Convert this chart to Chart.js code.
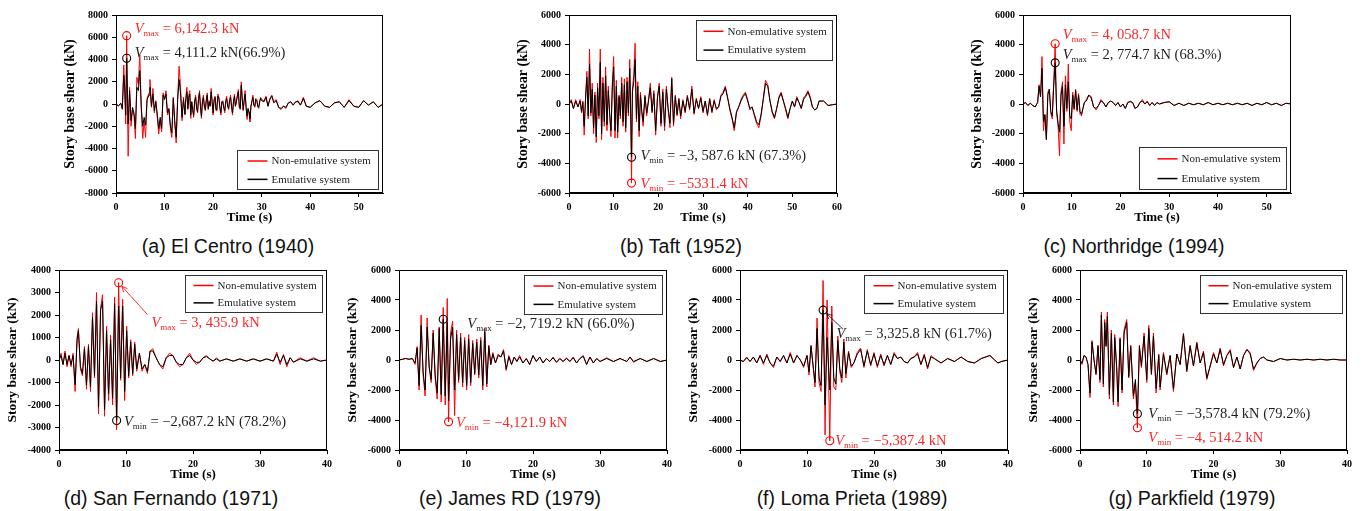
<!DOCTYPE html>
<html>
<head>
<meta charset="utf-8">
<script src="https://cdn.jsdelivr.net/npm/chart.js@4.4.1/dist/chart.umd.min.js"></script>
<style>
  body { margin: 0; background: #fff; }
  #fig { position: relative; width: 1368px; height: 511px; overflow: hidden; background: #fff; }
  #fig canvas { position: absolute; }
  .cap { position: absolute; width: 320px; text-align: center; line-height: 24px;
         font: 19.5px "Liberation Sans", Arial, sans-serif; color: #111; }
</style>
</head>
<body>
<div id="fig"></div>
<script>
// ---- data (time in s, story base shear in kN) ----
const legendLabels = ["Non-emulative system", "Emulative system"];

// (a) El Centro (1940)
const timeA = [
  0,0.5,1,1.3,1.6,1.8,2,2.2,2.5,2.8,
  3.1,3.4,3.7,4,4.3,4.6,4.9,5.2,5.5,5.8,
  6.1,6.4,6.8,7,7.3,7.6,7.9,8.2,8.5,8.8,
  9.1,9.4,9.7,10,10.3,10.6,10.9,11.2,11.5,11.8,
  12.1,12.4,12.7,13,13.3,13.6,13.9,
  14.2,14.4,14.6,14.8,15,15.2,15.4,15.6,15.8,16,
  16.2,16.4,16.6,16.8,17,17.2,17.4,17.6,17.8,18,
  18.2,18.4,18.6,18.8,19,19.2,19.4,19.6,19.8,20,
  20.2,20.4,20.6,20.8,21,21.2,21.4,21.6,21.8,22,
  22.2,22.4,22.6,22.8,23,23.2,23.4,23.6,23.8,24,
  24.2,24.4,24.6,24.8,25,25.2,25.4,25.6,25.8,26,
  26.2,26.4,26.6,26.8,27,27.2,27.4,27.6,27.8,28,
  28.2,28.4,28.6,28.8,29,29.2,29.4,29.6,29.8,30,
  30.5,30.9,31.3,31.7,32.1,32.5,33,33.5,34,34.5,
  35,35.5,36,36.5,37,37.5,38,38.6,39.2,40,
  41,42,43,44,45,46,47,48,49,50,
  51,52,53,54,55
];
const nonEmuA = [
  0,-200,100,-500,3500,1000,-1800,6142,-4700,1500,
  -2000,-500,-1000,-3100,2400,1800,4400,-400,-3100,-1500,
  -3000,500,1000,2200,-300,1400,-800,300,-1200,-2700,
  -1500,-2500,1000,500,1200,-1000,-500,-2200,-3000,600,
  -1800,-3500,500,3400,1500,-1500,600,
  -1000,600,1500,-500,800,1200,-1300,200,-600,-1200,
  300,800,-400,-800,500,1200,-300,-1300,200,800,
  -200,-600,400,1000,-500,300,-200,1400,200,-1000,
  400,700,-600,-300,900,600,-400,-1000,200,300,
  -400,-800,300,700,-200,-500,400,800,-300,-1000,
  200,900,-200,300,800,1300,-300,-500,2000,600,
  -600,400,1200,-300,-1400,-500,-800,-1600,-200,300,
  800,-100,-300,500,400,-200,-400,300,600,400,
  300,700,-200,500,800,200,400,-300,-500,-200,
  -400,100,200,-100,200,300,-100,600,-200,-300,
  100,300,-200,-300,100,200,-300,400,-200,-300,
  300,-100,200,-300,0
];
const emuA = [
  0,-150,50,-400,2600,1500,-1000,4111,-1800,1200,
  -1500,-300,-800,-2200,1500,1200,3000,-200,-2000,-1200,
  -1900,400,800,1500,-200,900,-600,200,-900,-2200,
  -1200,-2200,800,400,900,-800,-400,-1900,-2600,500,
  -1500,-3000,400,2200,900,-1200,400,
  -900,500,1100,-400,600,900,-1000,200,-500,-1000,
  200,600,-300,-700,400,1000,-200,-1100,200,600,
  -200,-500,300,800,-400,200,-200,1100,200,-800,
  300,600,-500,-200,700,500,-300,-800,200,200,
  -300,-600,200,500,-200,-400,300,600,-200,-800,
  200,700,-200,200,700,1100,-200,-400,1700,500,
  -500,300,900,-300,-1100,-400,-700,-1300,-200,200,
  600,-100,-200,400,300,-200,-300,200,500,300,
  200,600,-200,400,700,100,300,-300,-400,-200,
  -300,100,200,-100,200,200,-100,500,-200,-300,
  100,300,-200,-300,100,200,-300,300,-200,-300,
  300,-100,200,-300,0
];

// (b) Taft (1952)
const timeB = [
  0,0.5,1,1.5,2,2.5,2.8,3.1,3.4,3.7,
  4,4.3,4.6,4.9,5.2,5.5,5.8,6.1,6.4,6.7,
  7,7.3,7.6,7.9,8.2,8.5,8.8,9.1,9.4,9.7,
  10,10.3,10.6,10.9,11.2,11.5,11.8,12.1,12.4,12.7,
  13,13.3,13.6,13.8,14,14.2,14.5,14.8,15.1,15.4,
  15.7,16,16.3,16.6,17,17.4,17.8,18.2,18.6,19,
  19.4,19.8,20.2,20.6,21,21.4,21.8,22.2,22.6,23,
  23.4,23.8,24.2,24.6,25,25.5,26,26.5,27,27.5,
  28,28.5,29,29.5,30,30.5,31,31.5,32,32.5,
  33,33.5,34,34.5,35,35.5,36,36.5,37,37.5,
  38,38.5,39,39.5,40,40.5,41,41.5,42,42.5,
  43,43.5,44,44.5,45,45.5,46,46.5,47,47.5,
  48,48.5,49,49.5,50,50.5,51,51.5,52,52.5,
  53,53.5,54,54.5,55,55.5,56,57,58,59,60
];
const nonEmuB = [
  0,300,-300,300,-200,300,-600,200,-2100,400,
  2200,-1000,3700,-800,1400,-2000,800,-2600,1400,-1000,
  3700,-2400,1800,-1500,2500,-1800,1200,-800,-2200,1400,
  3200,-2300,1600,-2300,600,-1000,1800,-1500,1700,-1900,
  1800,-800,3000,-500,-5331,1000,2000,4100,-1200,1500,
  -2200,800,-600,-1500,600,-800,300,1400,-600,900,
  -2100,500,1400,-1500,1000,-1800,1200,-400,-1600,1800,
  -1500,600,-800,400,-1000,300,-600,600,-400,1200,
  -700,400,-300,500,-600,200,-800,400,-600,300,
  -400,-200,600,800,1200,500,-400,-1000,-1800,-600,
  -200,300,600,800,300,-400,-200,-800,-1300,-1600,
  -800,400,1600,1300,200,-600,-1000,-300,500,800,
  200,-400,-1000,-300,200,-200,500,100,-300,400,
  600,900,500,-200,-400,-300,200,200,-100,-50,0
];
const emuB = [
  0,200,-300,200,-200,200,-500,100,-1500,300,
  1800,-800,2700,-600,1000,-1600,600,-2200,1100,-800,
  2800,-2000,1400,-1200,1900,-1400,900,-600,-1800,1100,
  2500,-1800,1200,-1900,500,-800,1400,-1200,1300,-1600,
  1500,-600,2400,-400,-3588,800,1500,3000,-1000,1200,
  -1800,600,-500,-1200,500,-600,200,1100,-500,700,
  -1800,400,1200,-1300,800,-1500,1000,-300,-1300,1700,
  -1300,500,-700,300,-800,200,-500,500,-300,1000,
  -600,300,-300,400,-500,200,-700,300,-500,200,
  -300,-200,500,700,1100,400,-300,-900,-1600,-500,
  -200,200,500,700,200,-300,-200,-700,-1200,-1400,
  -700,300,1400,1200,200,-500,-900,-300,400,700,
  200,-300,-900,-300,200,-200,400,100,-300,300,
  500,800,400,-200,-400,-300,200,200,-100,-50,0
];

// (c) Northridge (1994)
const timeC = [
  0,0.5,1,1.5,2,2.5,3,3.3,3.6,3.9,
  4.2,4.5,4.8,5.1,5.4,5.7,6,6.3,6.6,6.9,
  7.2,7.5,7.8,8.1,8.4,8.7,9,9.3,9.6,9.9,
  10.2,10.5,10.8,11.1,11.4,11.7,12,12.3,12.6,13,
  13.5,14,14.5,15,15.5,16,16.5,17,17.5,18,
  18.5,19,19.5,20,20.5,21,21.5,22,22.5,23,
  23.5,24,24.5,25,25.5,26,26.5,27,27.5,28,
  29,30,31,32,33,34,35,36,37,38,
  39,40,41,42,43,44,45,46,47,48,
  49,50,51,52,53,54,55
];
const nonEmuC = [
  0,100,-100,50,-100,-200,100,1300,500,3200,
  -1800,-800,-2400,800,1000,-600,-1000,1500,4059,-600,
  -1500,-3500,800,1500,-2700,1900,-500,2700,-1200,-1800,
  800,-400,1000,-500,700,-700,-800,-300,100,300,
  600,500,-200,-400,-100,300,100,-200,100,200,
  100,-100,100,-200,0,-300,100,200,100,-300,
  -200,100,300,0,200,-100,100,-100,100,0,
  100,150,-100,50,-100,50,-50,50,-50,100,
  -50,50,-50,50,-50,50,-50,50,-100,50,
  -50,100,-50,50,-100,50,0
];
const emuC = [
  0,100,-100,50,-100,-200,100,1200,500,2400,
  -1200,-700,-2400,600,1000,-500,-800,1200,2775,-400,
  -1300,-1900,600,1200,-1500,1300,-300,1500,-800,-1000,
  600,-300,900,-400,600,-500,-700,-300,100,200,
  600,400,-200,-300,-100,200,100,-200,100,200,
  100,-100,100,-200,0,-300,100,150,100,-300,
  -200,100,200,0,150,-100,100,-100,100,0,
  100,150,-100,50,-100,50,-50,50,-50,100,
  -50,50,-50,50,-50,50,-50,50,-100,50,
  -50,100,-50,50,-100,50,0
];

// (d) San Fernando (1971)
const timeD = [
  0,0.3,0.6,0.9,1.2,1.5,1.8,2.1,2.4,2.7,
  2.9,3.2,3.5,3.8,4.1,4.4,4.7,5,5.3,5.6,
  5.9,6.2,6.5,6.8,7.1,7.4,7.7,8,8.3,8.6,
  8.9,9.2,9.5,9.8,10.1,10.4,10.7,11,11.3,11.6,
  12,12.4,12.8,13.2,13.6,14,14.5,15,15.5,16,
  16.5,17,17.5,18,18.5,19,19.5,20,20.5,21,
  21.5,22,22.5,23,23.5,24,25,26,27,28,
  29,30,31,32,32.5,33,33.5,34,34.5,35,
  36,37,38,39,40
];
const nonEmuD = [
  0,300,-200,400,-300,200,-300,300,-1400,1000,
  1400,-400,-700,600,-1300,700,-1400,2100,-800,3000,
  -2400,2300,2900,-2500,1500,-1800,1100,-2000,2800,-3100,
  3436,-900,2700,-1800,1500,-800,900,-700,800,-500,
  300,-500,-200,-600,400,500,100,-200,-400,100,
  300,200,-100,-300,-200,100,300,0,-200,-100,
  100,200,50,-50,100,-50,50,-50,50,-50,
  50,-50,50,-50,350,-200,250,-300,100,-100,
  100,-50,100,-50,0
];
const emuD = [
  0,200,-200,300,-200,200,-200,200,-1100,900,
  1300,-300,-600,500,-1100,600,-1200,1900,-700,2600,
  -2100,2200,2600,-2200,1300,-1500,900,-1700,2500,-2687,
  2400,-800,2400,-1400,1300,-700,800,-600,700,-400,
  300,-400,-200,-500,400,400,100,-200,-300,100,
  200,200,-100,-200,-200,100,200,0,-100,-100,
  100,150,50,-50,50,-50,50,-50,50,-50,
  50,-50,50,-50,250,-100,200,-200,100,-100,
  50,-50,50,-50,0
];

// (e) James RD (1979)
const timeE = [
  0,0.5,1,1.5,2,2.4,2.7,3,3.3,3.6,
  3.9,4.2,4.5,4.8,5.1,5.4,5.7,6,6.3,6.6,
  6.9,7.2,7.4,7.7,8,8.3,8.6,8.9,9.2,9.5,
  9.8,10.1,10.4,10.7,11,11.3,11.6,11.9,12.2,12.5,
  12.8,13.1,13.4,13.7,14,14.4,14.8,15.2,15.6,16,
  16.4,16.8,17.2,17.6,18,18.5,19,19.5,20,20.5,
  21,21.5,22,22.5,23,23.5,24,24.5,25,25.5,
  26,26.5,27,27.5,28,28.5,29,29.5,30,31,
  32,33,34,34.5,35,36,37,38,39,40
];
const nonEmuE = [
  0,50,100,50,100,-300,900,-2000,3000,-1000,
  -2400,2800,-500,-1500,2000,-1200,-2600,2200,-2800,3500,
  -3000,4100,-4122,1800,2600,-3700,2000,-1500,1800,-1800,
  1500,-2000,1700,-1700,1300,-1000,1400,-1200,1500,-2000,
  2100,-1800,1000,-300,500,-200,400,200,700,-700,
  300,-300,200,-100,300,-200,100,-300,300,-100,
  200,-200,100,-100,200,-150,100,-100,150,-100,
  200,-200,100,300,-300,200,-200,100,-100,150,
  -100,100,-100,200,-150,100,-100,100,-100,0
];
const emuE = [
  0,50,100,50,100,-200,800,-1700,2300,-800,
  -2000,2200,-400,-1300,1800,-1000,-2200,2100,-2300,2719,
  -2400,2500,-2700,1400,2200,-2000,1700,-1300,1500,-1500,
  1300,-1700,1400,-1500,1100,-900,1200,-1000,1300,-1700,
  1900,-1600,900,-300,400,-200,300,200,600,-600,
  200,-300,200,-100,200,-200,100,-300,300,-100,
  200,-200,100,-100,150,-150,100,-100,100,-100,
  150,-200,100,250,-300,200,-200,100,-100,100,
  -100,100,-100,200,-100,100,-100,100,-100,0
];

// (f) Loma Prieta (1989)
const timeF = [
  0,0.5,1,1.5,2,2.5,3,3.5,4,4.5,
  5,5.5,6,6.5,7,7.5,8,8.5,9,9.5,
  10,10.3,10.6,10.9,11.2,11.5,11.8,12.1,12.4,12.7,
  13,13.4,13.7,14,14.3,14.6,14.9,15.2,15.5,15.8,
  16.2,16.6,17,17.5,18,18.5,19,19.5,20,20.5,
  21,21.5,22,22.5,23,23.5,24,24.5,25,25.5,
  26,26.5,27,27.5,28,28.5,29,30,31,32,
  33,34,35,36,37.3,38,38.5,39,40
];
const nonEmuF = [
  0,-100,200,-100,200,-200,300,-300,400,-200,
  -500,200,-100,300,-200,500,-200,300,0,-500,
  300,-1000,1000,-400,-1800,2800,-1500,-2100,5300,-5000,
  4000,-5387,3600,-1800,-2000,1600,-800,-1500,1400,-1200,
  600,-500,-200,500,800,-500,700,-400,500,-500,
  400,-400,300,-300,500,100,200,-100,-200,100,
  200,500,-300,400,-600,300,100,-200,100,-100,
  200,-100,-200,100,300,0,-200,-100,0
];
const emuF = [
  0,-100,150,-100,200,-200,300,-200,300,-200,
  -400,200,-100,300,-200,400,-200,300,0,-400,
  300,-800,900,-300,-1500,2100,-1200,-1700,3326,-3000,
  1500,-2000,2500,-1200,-1600,1300,-600,-1200,1200,-900,
  500,-400,-200,400,700,-400,600,-300,400,-400,
  300,-300,300,-300,400,100,200,-100,-200,100,
  200,400,-300,300,-500,200,100,-200,100,-100,
  200,-100,-200,100,300,0,-200,-100,0
];

// (g) Parkfield (1979)
const timeG = [
  0,0.3,0.6,0.9,1.2,1.5,1.8,2.1,2.4,2.7,
  3,3.2,3.5,3.7,3.9,4.1,4.4,4.7,5,5.2,
  5.5,5.7,6,6.3,6.6,7,7.3,7.6,8,8.3,
  8.6,8.9,9.2,9.6,10,10.3,10.7,11,11.4,11.8,
  12,12.5,13,13.5,14,14.5,15,15.5,16,16.5,
  17,17.5,18,18.5,19,19.5,20,20.5,21,21.5,
  22,22.5,23,23.5,24,24.5,25,25.5,26,26.5,
  27,27.5,28,29,30,31,32,33,34,35,
  36,37,38,39,40
];
const nonEmuG = [
  0,-300,300,200,-300,-2500,1300,0,-1000,1000,
  -1500,3200,-1800,2700,1000,3200,-2600,2000,-3000,1700,
  -600,-3100,1500,-2200,2000,2700,-1200,1000,-2600,-1500,
  -4514,1000,-500,1800,-1500,2300,-1000,1800,-2200,400,
  -2000,500,-1000,300,-2100,400,-300,1800,-800,1000,
  -400,1200,-200,600,-1300,-400,500,-200,800,-400,
  300,700,-500,200,-600,300,700,500,-700,-200,
  100,200,0,-100,100,0,50,0,50,0,
  50,0,50,0,0
];
const emuG = [
  0,-200,300,200,-300,-2200,1200,0,-900,900,
  -1300,3000,-1600,2500,900,2900,-2300,1800,-2800,1500,
  -500,-2800,1400,-2000,1800,2500,-1100,900,-2400,-1300,
  -3578,900,-400,1600,-1300,2100,-900,1600,-1900,300,
  -1800,400,-900,300,-1900,400,-300,1700,-700,900,
  -400,1100,-200,500,-1200,-400,400,-200,700,-300,
  300,600,-500,200,-600,300,700,400,-600,-200,
  100,200,0,-100,100,0,50,0,50,0,
  50,0,50,0,0
];

// ---- layout / styling ----
const RED = "#ff0000";
const BLACK = "#000000";
const RED_TXT = "#ff2424";
const BLACK_TXT = "#1e1e1e";
const SERIF = '"Liberation Serif", "Times New Roman", serif';
const Y_AXIS_W = 56, PAD_T = 8, PAD_R = 12, X_AXIS_H = 36;

const panels = [
  { time: timeA, red: nonEmuA, black: emuA, box: [116, 13, 383, 193], xMax: 55, yLim: 8000, yStep: 2000,
    legend: { corner: "br", w: 141, h: 39, lineX: 10, textX: 34 }, yTitle: 14,
    marks: [
      { t: 2.2, v: 6142.3, c: "red", sub: "max", txt: " = 6,142.3 kN", lt: 3.86, lv: 6840 },
      { t: 2.2, v: 4111.2, c: "black", sub: "max", txt: " = 4,111.2 kN(66.9%)", lt: 3.86, lv: 4710 }
    ] },
  { time: timeB, red: nonEmuB, black: emuB, box: [569, 13, 837, 193], xMax: 60, yLim: 6000, yStep: 2000,
    legend: { corner: "tr", w: 136, h: 40, lineX: 7, textX: 31 }, yTitle: 14,
    marks: [
      { t: 14, v: -3587.6, c: "black", sub: "min", txt: " = \u22123, 587.6 kN (67.3%)", lt: 16.0, lv: -3420 },
      { t: 14, v: -5331.4, c: "red", sub: "min", txt: " = \u22125331.4 kN", lt: 16.0, lv: -5350 }
    ] },
  { time: timeC, red: nonEmuC, black: emuC, box: [1023, 13, 1291, 193], xMax: 55, yLim: 6000, yStep: 2000,
    legend: { corner: "br", w: 147, h: 42, lineX: 18, textX: 42 }, yTitle: 14,
    marks: [
      { t: 6.6, v: 4058.7, c: "red", sub: "max", txt: " = 4, 058.7 kN", lt: 8.15, lv: 4690 },
      { t: 6.6, v: 2774.7, c: "black", sub: "max", txt: " = 2, 774.7 kN (68.3%)", lt: 8.15, lv: 3350 }
    ] },
  { time: timeD, red: nonEmuD, black: emuD, box: [59, 268, 327, 450], xMax: 40, yLim: 4000, yStep: 1000,
    legend: { corner: "tr", w: 137, h: 37, lineX: 8, textX: 32 }, yTitle: 13.5,
    marks: [
      { t: 8.9, v: 3435.9, c: "red", sub: "max", txt: " = 3, 435.9 kN", lt: 13.8, lv: 1680, lead: [13.2, 2020] },
      { t: 8.6, v: -2687.2, c: "black", sub: "min", txt: " = \u22122,687.2 kN (78.2%)", lt: 9.7, lv: -2710 }
    ] },
  { time: timeE, red: nonEmuE, black: emuE, box: [399, 268, 667, 450], xMax: 40, yLim: 6000, yStep: 2000,
    legend: { corner: "tr", w: 138, h: 39, lineX: 9, textX: 33 }, yTitle: 13.5,
    marks: [
      { t: 6.6, v: 2719.2, c: "black", sub: "max", txt: " = \u22122, 719.2 kN (66.0%)", lt: 10.2, lv: 2460 },
      { t: 7.4, v: -4121.9, c: "red", sub: "min", txt: " = \u22124,121.9 kN", lt: 8.5, lv: -4130 }
    ] },
  { time: timeF, red: nonEmuF, black: emuF, box: [740, 268, 1008, 450], xMax: 40, yLim: 6000, yStep: 2000,
    legend: { corner: "tr", w: 139, h: 38, lineX: 9, textX: 33 }, yTitle: 13.5,
    marks: [
      { t: 12.4, v: 3325.8, c: "black", sub: "max", txt: " = 3,325.8 kN (61.7%)", lt: 14.4, lv: 1800, lead: [15.4, 2040] },
      { t: 13.4, v: -5387.4, c: "red", sub: "min", txt: " = \u22125,387.4 kN", lt: 14.2, lv: -5340 }
    ] },
  { time: timeG, red: nonEmuG, black: emuG, box: [1080, 268, 1347, 450], xMax: 40, yLim: 6000, yStep: 2000,
    legend: { corner: "tr", w: 142, h: 38, lineX: 8, textX: 32 }, yTitle: 13.5,
    marks: [
      { t: 8.6, v: -3578.4, c: "black", sub: "min", txt: " = \u22123,578.4 kN (79.2%)", lt: 10.23, lv: -3560 },
      { t: 8.6, v: -4514.2, c: "red", sub: "min", txt: " = \u22124, 514.2 kN", lt: 10.23, lv: -5120 }
    ] }
];

const captions = [
  { text: "(a) El Centro (1940)", cx: 228, cy: 247 },
  { text: "(b) Taft (1952)", cx: 681, cy: 247 },
  { text: "(c) Northridge (1994)", cx: 1134, cy: 247 },
  { text: "(d) San Fernando (1971)", cx: 171, cy: 499 },
  { text: "(e) James RD (1979)", cx: 510, cy: 499 },
  { text: "(f) Loma Prieta (1989)", cx: 852, cy: 499 },
  { text: "(g) Parkfield (1979)", cx: 1192, cy: 499 }
];

const fig = document.getElementById("fig");

function drawLabel(ctx, x, y, sub, txt, color) {
  ctx.fillStyle = color;
  ctx.textAlign = "left";
  ctx.textBaseline = "alphabetic";
  const base = y + 5;
  ctx.font = "italic 14.5px " + SERIF;
  ctx.fillText("V", x, base);
  x += ctx.measureText("V").width;
  ctx.font = "9px " + SERIF;
  ctx.fillText(sub, x, base + 3);
  x += ctx.measureText(sub).width;
  ctx.font = "14.5px " + SERIF;
  ctx.fillText(txt, x, base);
}

const extras = {
  id: "extras",
  afterDraw(chart, args, opts) {
    const p = opts.panel;
    const ctx = chart.ctx;
    const ca = chart.chartArea;
    const xs = chart.scales.x, ys = chart.scales.y;
    ctx.save();

    // frame
    ctx.strokeStyle = "#000";
    ctx.lineWidth = 1;
    ctx.strokeRect(Math.round(ca.left) + 0.5, Math.round(ca.top) + 0.5,
      Math.round(ca.right - ca.left) - 1, Math.round(ca.bottom - ca.top) - 1);

    // axis titles
    ctx.fillStyle = "#000";
    ctx.textAlign = "center";
    ctx.textBaseline = "middle";
    ctx.font = "bold 13px " + SERIF;
    ctx.fillText("Time (s)", (ca.left + ca.right) / 2, ca.bottom + 25);
    ctx.save();
    ctx.translate(ca.left - 46, (ca.top + ca.bottom) / 2);
    ctx.rotate(-Math.PI / 2);
    ctx.font = "bold " + p.yTitle + "px " + SERIF;
    ctx.fillText("Story base shear (kN)", 0, 0);
    ctx.restore();

    // legend box
    const lg = p.legend;
    const lx = Math.round(ca.right - 5 - lg.w) + 0.5;
    const ly = lg.corner === "tr" ? Math.round(ca.top + 5) + 0.5 : Math.round(ca.bottom - 4 - lg.h) + 0.5;
    ctx.fillStyle = "#fff";
    ctx.fillRect(lx, ly, lg.w, lg.h);
    ctx.strokeStyle = "#333";
    ctx.strokeRect(lx, ly, lg.w, lg.h);
    const colors = [RED, BLACK];
    legendLabels.forEach((lab, i) => {
      const yy = ly + lg.h * (i === 0 ? 0.27 : 0.74);
      ctx.strokeStyle = colors[i];
      ctx.lineWidth = 1.5;
      ctx.beginPath();
      ctx.moveTo(lx + lg.lineX, yy);
      ctx.lineTo(lx + lg.lineX + 20, yy);
      ctx.stroke();
      ctx.fillStyle = "#222";
      ctx.font = "11px " + SERIF;
      ctx.textAlign = "left";
      ctx.textBaseline = "middle";
      ctx.fillText(lab, lx + lg.textX, yy + 0.5);
    });

    // peak markers and labels
    p.marks.forEach((m) => {
      const px = xs.getPixelForValue(m.t);
      const py = ys.getPixelForValue(m.v);
      const stroke = m.c === "red" ? RED : BLACK;
      ctx.strokeStyle = stroke;
      ctx.lineWidth = 1.1;
      ctx.beginPath();
      ctx.arc(px, py, 4, 0, Math.PI * 2);
      ctx.stroke();
      if (m.lead) {
        const ex = xs.getPixelForValue(m.lead[0]);
        const ey = ys.getPixelForValue(m.lead[1]);
        const ang = Math.atan2(ey - py, ex - px);
        const sx = px + Math.cos(ang) * 5, sy = py + Math.sin(ang) * 5;
        ctx.lineWidth = 0.8;
        ctx.beginPath();
        ctx.moveTo(sx, sy);
        ctx.lineTo(ex, ey);
        ctx.moveTo(sx + Math.cos(ang + 0.45) * 6, sy + Math.sin(ang + 0.45) * 6);
        ctx.lineTo(sx, sy);
        ctx.lineTo(sx + Math.cos(ang - 0.45) * 6, sy + Math.sin(ang - 0.45) * 6);
        ctx.stroke();
      }
      drawLabel(ctx, xs.getPixelForValue(m.lt), ys.getPixelForValue(m.lv), m.sub, m.txt,
        m.c === "red" ? RED_TXT : BLACK_TXT);
    });
    ctx.restore();
  }
};

function buildPanel(p, idx) {
  if (p.time.length !== p.red.length || p.time.length !== p.black.length) {
    throw new Error("length mismatch in panel " + idx + ": " + p.time.length + "/" + p.red.length + "/" + p.black.length);
  }
  const canvas = document.createElement("canvas");
  const w = p.box[2] - p.box[0] + Y_AXIS_W + PAD_R;
  const h = p.box[3] - p.box[1] + PAD_T + X_AXIS_H;
  canvas.width = w;
  canvas.height = h;
  canvas.style.left = (p.box[0] - Y_AXIS_W) + "px";
  canvas.style.top = (p.box[1] - PAD_T) + "px";
  fig.appendChild(canvas);

  const tickFont = { family: SERIF, size: 10, weight: "bold" };
  new Chart(canvas, {
    type: "line",
    data: {
      datasets: [
        {
          label: legendLabels[0],
          data: p.time.map((t, i) => ({ x: t, y: p.red[i] })),
          borderColor: RED, borderWidth: 1, pointRadius: 0, tension: 0, order: 1
        },
        {
          label: legendLabels[1],
          data: p.time.map((t, i) => ({ x: t, y: p.black[i] })),
          borderColor: BLACK, borderWidth: 1, pointRadius: 0, tension: 0, order: 0
        }
      ]
    },
    options: {
      responsive: false,
      animation: false,
      devicePixelRatio: 1,
      layout: { padding: { top: PAD_T, right: PAD_R, left: 0, bottom: 0 } },
      plugins: { legend: { display: false }, tooltip: { enabled: false }, extras: { panel: p } },
      scales: {
        x: {
          type: "linear", min: 0, max: p.xMax,
          ticks: { stepSize: 10, includeBounds: false, font: tickFont, color: "#000", padding: 4, maxRotation: 0,
                   callback: (v) => String(v) },
          grid: { drawOnChartArea: false, drawTicks: true, tickLength: 4, color: "#000" },
          border: { color: "#000", width: 1 },
          afterFit: (s) => { s.height = X_AXIS_H; }
        },
        y: {
          min: -p.yLim, max: p.yLim,
          ticks: { stepSize: p.yStep, font: tickFont, color: "#000", padding: 4,
                   callback: (v) => String(v) },
          grid: { drawOnChartArea: false, drawTicks: true, tickLength: 4, color: "#000" },
          border: { color: "#000", width: 1 },
          afterFit: (s) => { s.width = Y_AXIS_W; }
        }
      }
    },
    plugins: [extras]
  });
}

panels.forEach(buildPanel);

captions.forEach((c) => {
  const d = document.createElement("div");
  d.className = "cap";
  d.textContent = c.text;
  d.style.left = (c.cx - 160) + "px";
  d.style.top = (c.cy - 12) + "px";
  fig.appendChild(d);
});
</script>
</body>
</html>
